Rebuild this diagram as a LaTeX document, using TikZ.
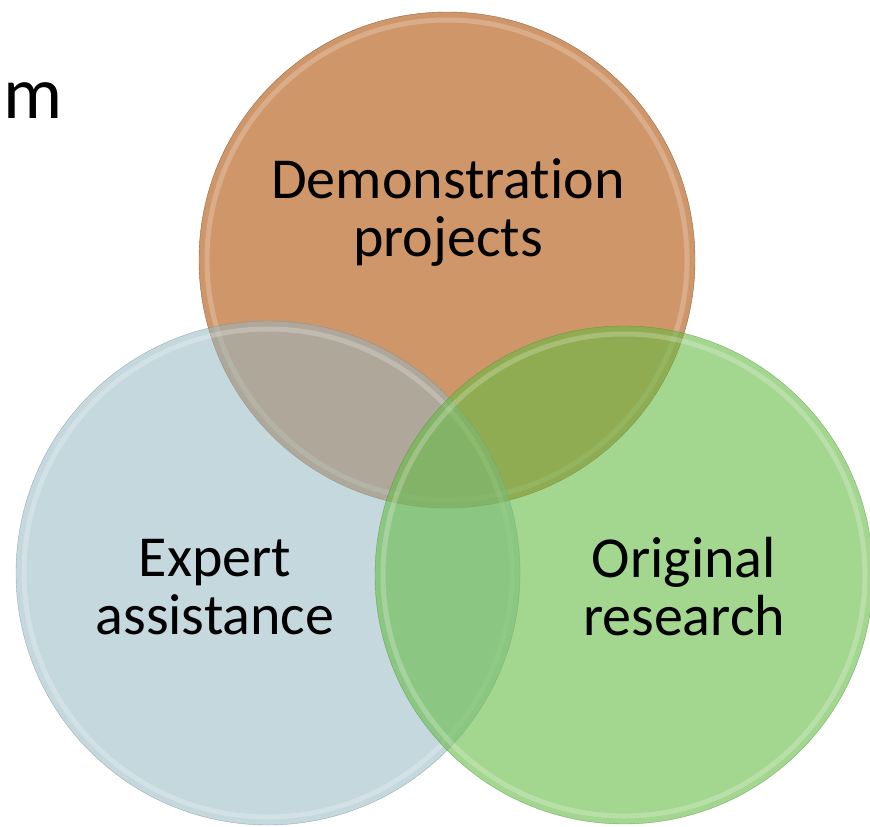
\documentclass[tikz,border=0pt]{standalone}
\usepackage{fontspec}
\setmainfont{Carlito}[Ligatures=NoCommon]
\definecolor{demoorange}{RGB}{207,150,105}
\definecolor{expertblue}{RGB}{149,184,195}
\definecolor{researchgreen}{RGB}{102,187,68}

\begin{document}
\begin{tikzpicture}[x=1pt, y=-1pt, every node/.style={font=\fontsize{58}{58}\selectfont, align=center},
    rim/.style={white, opacity=0.22, line width=5pt}]
    \useasboundingbox (0,0) rectangle (870,827);
    \coordinate (demo) at (447,260);
    \coordinate (expert) at (268,573);
    \coordinate (research) at (624,575);
    \fill[demoorange] (demo) circle (248pt);
    \draw[demoorange!70!black, thin] (demo) circle (248pt);
    \draw[rim] (demo) circle (240pt); % inner bevel
    \fill[expertblue, fill opacity=0.55] (expert) circle (252pt);
    \draw[expertblue!75!black, thin, opacity=0.6] (expert) circle (252pt);
    \draw[rim] (expert) circle (244pt);
    \fill[researchgreen, fill opacity=0.6] (research) circle (249pt);
    \draw[researchgreen!75!black, thin, opacity=0.6] (research) circle (249pt);
    \draw[rim] (research) circle (241pt);
    \node (demotext) at (448,213) {Demonstration\\projects};
    \node (experttext) at (215,587) {Expert\\assistance};
    \node (researchtext) at (684,587) {Original\\research};
    \node[font=\fontsize{74}{78}\selectfont, anchor=base west, inner sep=0pt] (title) at (3,118) {m};
\end{tikzpicture}
\end{document}
